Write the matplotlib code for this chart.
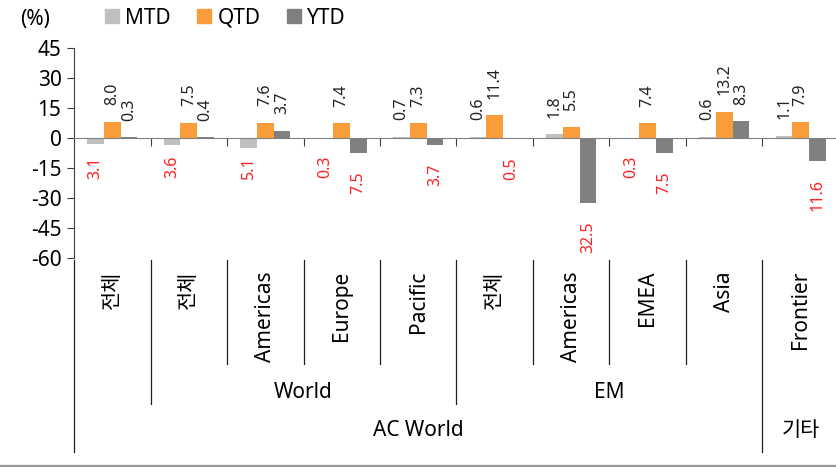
import matplotlib
matplotlib.use('Agg')
import matplotlib.pyplot as plt
import matplotlib.transforms as mtransforms
from matplotlib.patches import Patch
import numpy as np

plt.rcParams['font.family'] = ['Noto Sans', 'Noto Sans CJK KR', 'DejaVu Sans']
plt.rcParams['axes.unicode_minus'] = False

# 지수별 수익률 (%)
regions = ['전체', '전체', 'Americas', 'Europe', 'Pacific',
           '전체', 'Americas', 'EMEA', 'Asia', 'Frontier']
mtd = [-3.1, -3.6, -5.1, -0.3, 0.7, 0.6, 1.8, -0.3, 0.6, 1.1]
qtd = [8.0, 7.5, 7.6, 7.4, 7.3, 11.4, 5.5, 7.4, 13.2, 7.9]
ytd = [0.3, 0.4, 3.7, -7.5, -3.7, -0.5, -32.5, -7.5, 8.3, -11.6]
series_names = ['MTD', 'QTD', 'YTD']
colors = ['#BFBFBF', '#F99D3A', '#808080']

# 상위 분류 (라벨, 시작 인덱스, 끝 인덱스)
level2 = [('World', 1, 4), ('EM', 5, 8)]
level3 = [('AC World', 0, 8), ('기타', 9, 9)]

W, H = 837, 467
fig = plt.figure(figsize=(W / 100, H / 100), dpi=100)
ax = fig.add_axes([74 / W, 1 - 258 / H, 765 / W, 210 / H])

x = np.arange(len(regions))
bw = 0.218
for k, (vals, name, c) in enumerate(zip([mtd, qtd, ytd], series_names, colors)):
    xs = x + (k - 1) * bw
    ax.bar(xs, vals, bw, color=c, zorder=2)
    for xi, v in zip(xs, vals):
        if v >= 0:
            ax.annotate(f'{v:.1f}', (xi, v), xytext=(0, 12), textcoords='offset points',
                        rotation=90, ha='center', va='bottom', fontsize=11.5, color='#222222')
        else:
            # MTD 음수 라벨은 0선 아래 고정, 나머지는 막대 끝 아래
            base = 0 if k == 0 else v
            ax.annotate(f'{abs(v):.1f}', (xi, base), xytext=(0, -13), textcoords='offset points',
                        rotation=90, ha='center', va='top', fontsize=11.5, color='#FF2020')

ax.set_xlim(-0.5, len(regions) - 0.5)
ax.set_ylim(-60, 45)
ax.set_yticks(np.arange(-60, 46, 15))
ax.tick_params(axis='y', labelsize=15, length=5, color='#404040', pad=4)
for s in ['top', 'right']:
    ax.spines[s].set_visible(False)
ax.spines['left'].set_color('#404040')
ax.spines['bottom'].set_position(('data', 0))
ax.spines['bottom'].set_color('#808080')
ax.set_xticks(np.arange(0.5, len(regions) - 0.5, 1))
ax.set_xticklabels([])
ax.tick_params(axis='x', length=6, color='#404040', direction='out')

# 다단 카테고리 라벨
tr = mtransforms.blended_transform_factory(ax.transData, fig.transFigure)
fy = lambda py: 1 - py / H
for i, name in enumerate(regions):
    ax.text(i, fy(271), name, transform=tr, rotation=90, ha='center', va='top', fontsize=15)

long_b = {-0.5, 8.5, 9.5}
mid_b = {0.5, 4.5}
for b in np.arange(-0.5, len(regions), 1):
    if b in long_b:
        y1 = 452
    elif b in mid_b:
        y1 = 404
    else:
        y1 = 364
    ax.plot([b, b], [fy(260), fy(y1)], transform=tr, color='#202020', lw=0.9, clip_on=False)

for name, a, b in level2:
    ax.text((a + b) / 2, fy(392), name, transform=tr, ha='center', va='center', fontsize=15)
for name, a, b in level3:
    ax.text((a + b) / 2, fy(431), name, transform=tr, ha='center', va='center', fontsize=15)

# 범례와 단위
handles = [Patch(color=c, label=n) for c, n in zip(colors, series_names)]
fig.legend(handles=handles, loc='center left', bbox_to_anchor=(105 / W, fy(18)), ncol=3,
           frameon=False, fontsize=15, handlelength=0.65, handleheight=0.65,
           handletextpad=0.3, columnspacing=1.3, borderpad=0, borderaxespad=0)
fig.text(20 / W, fy(19), '(%)', ha='left', va='center', fontsize=15)

fig.add_artist(plt.Line2D([0, 1], [fy(465.5), fy(465.5)], color='#9A9A9A', lw=2.4))

fig.savefig('out.png', dpi=100)
